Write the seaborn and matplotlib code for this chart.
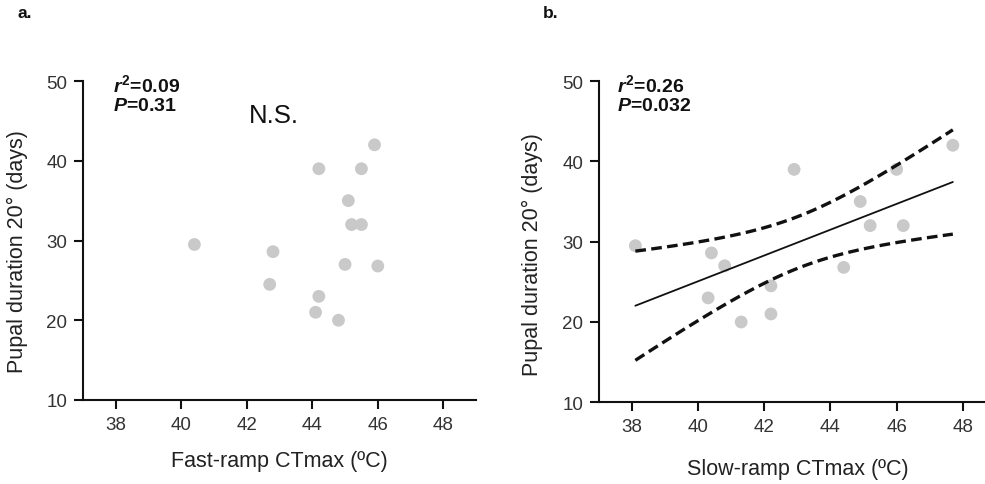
import numpy as np
import pandas as pd
import matplotlib
matplotlib.use("Agg")
import matplotlib.pyplot as plt
import seaborn as sns

# ---- data ----
fast_ctmax = [40.4, 42.8, 42.7, 44.2, 44.2, 44.1, 44.8, 45.0, 45.1, 45.2, 45.5, 45.5, 45.9, 46.0]
fast_pupal = [29.5, 28.6, 24.5, 39.0, 23.0, 21.0, 20.0, 27.0, 35.0, 32.0, 32.0, 39.0, 42.0, 26.8]

slow_ctmax = [38.1, 40.4, 40.8, 40.3, 41.3, 42.2, 42.2, 42.9, 44.4, 44.9, 45.2, 46.2, 46.0, 47.7]
slow_pupal = [29.5, 28.6, 27.0, 23.0, 20.0, 24.5, 21.0, 39.0, 26.8, 35.0, 32.0, 32.0, 39.0, 42.0]

x_ticks = [38, 40, 42, 44, 46, 48]
y_ticks = [10, 20, 30, 40, 50]
stats_a = ["0.09", "0.31"]
stats_b = ["0.26", "0.032"]
t_crit = 2.179  # t(0.975, df=12)

sns.set_theme(style="ticks")
plt.rcParams['font.family'] = ['Liberation Sans', 'DejaVu Sans']
plt.rcParams['mathtext.fontset'] = 'custom'
plt.rcParams['mathtext.it'] = 'Liberation Sans:italic:bold'
plt.rcParams['mathtext.rm'] = 'Liberation Sans:bold'
plt.rcParams['mathtext.bf'] = 'Liberation Sans:bold'

fig = plt.figure(figsize=(9.85, 4.85), dpi=100)
ax1 = fig.add_axes([0.0843, 0.1732, 0.399, 0.6577])
ax2 = fig.add_axes([0.6081, 0.1684, 0.4029, 0.6625])

pt_color = "#c9c9c9"
txt_color = "#222222"

def style(ax, xlabel, xpad, ylab_x, ylab_y):
    ax.set_xlim(37, 49)
    ax.set_ylim(10, 50)
    ax.set_xticks(x_ticks)
    ax.set_yticks(y_ticks)
    for s in ["top", "right"]:
        ax.spines[s].set_visible(False)
    for s in ["left", "bottom"]:
        ax.spines[s].set_linewidth(1.5)
        ax.spines[s].set_color("#111111")
        ax.spines[s].set_clip_on(False)
    ax.tick_params(axis="both", direction="out", length=6.5, width=1.5,
                   color="#111111", labelsize=13.5, labelcolor="#333333", pad=5)
    ax.set_xlabel(xlabel, fontsize=15.5, color=txt_color, labelpad=xpad)
    ax.set_ylabel("Pupal duration 20° (days)", fontsize=15.5, color=txt_color)
    ax.yaxis.set_label_coords(ylab_x, ylab_y)

df_a = pd.DataFrame({"x": fast_ctmax, "y": fast_pupal})
sns.scatterplot(data=df_a, x="x", y="y", ax=ax1, color=pt_color, s=85,
                edgecolor="none", zorder=3)
style(ax1, "Fast-ramp CTmax (ºC)", 12.5, -0.14, 0.47)
ax1.text(0.075, 1.025, r"$r^2$=" + stats_a[0], transform=ax1.transAxes,
         fontsize=14, fontweight="bold", va="top", ha="left", color="#111111")
ax1.text(0.075, 0.95, r"$P$=" + stats_a[1], transform=ax1.transAxes,
         fontsize=14, fontweight="bold", va="top", ha="left", color="#111111")
ax1.text(0.485, 0.895, "N.S.", transform=ax1.transAxes, fontsize=18.5,
         va="center", ha="center", color="#111111")

df_b = pd.DataFrame({"x": slow_ctmax, "y": slow_pupal})
sns.scatterplot(data=df_b, x="x", y="y", ax=ax2, color=pt_color, s=85,
                edgecolor="none", zorder=3)

# linear fit + 95% CI of mean
xb = np.asarray(slow_ctmax)
yb = np.asarray(slow_pupal)
n = len(xb)
b1, b0 = np.polyfit(xb, yb, 1)
resid = yb - (b0 + b1 * xb)
s_err = np.sqrt(np.sum(resid ** 2) / (n - 2))
sxx = np.sum((xb - xb.mean()) ** 2)
xg = np.linspace(xb.min(), xb.max(), 100)
yg = b0 + b1 * xg
half = t_crit * s_err * np.sqrt(1.0 / n + (xg - xb.mean()) ** 2 / sxx)
fit = pd.DataFrame({"x": xg, "fit": yg, "lo": yg - half, "hi": yg + half})
sns.lineplot(data=fit, x="x", y="fit", ax=ax2, color="#111111", lw=1.3, zorder=4)
sns.lineplot(data=fit, x="x", y="lo", ax=ax2, color="#111111", lw=2.4,
             linestyle=(0, (3.2, 1.6)), zorder=4)
sns.lineplot(data=fit, x="x", y="hi", ax=ax2, color="#111111", lw=2.4,
             linestyle=(0, (3.2, 1.6)), zorder=4)
style(ax2, "Slow-ramp CTmax (ºC)", 16, -0.141, 0.464)
ax2.text(0.045, 1.025, r"$r^2$=" + stats_b[0], transform=ax2.transAxes,
         fontsize=14, fontweight="bold", va="top", ha="left", color="#111111")
ax2.text(0.045, 0.95, r"$P$=" + stats_b[1], transform=ax2.transAxes,
         fontsize=14, fontweight="bold", va="top", ha="left", color="#111111")

fig.text(17 / 985, 1 - 13 / 485, "a.", fontsize=12.5, fontweight="bold",
         va="center", ha="left", color="#111111")
fig.text(543 / 985, 1 - 13 / 485, "b.", fontsize=12.5, fontweight="bold",
         va="center", ha="left", color="#111111")

fig.savefig("out.png", dpi=100)
